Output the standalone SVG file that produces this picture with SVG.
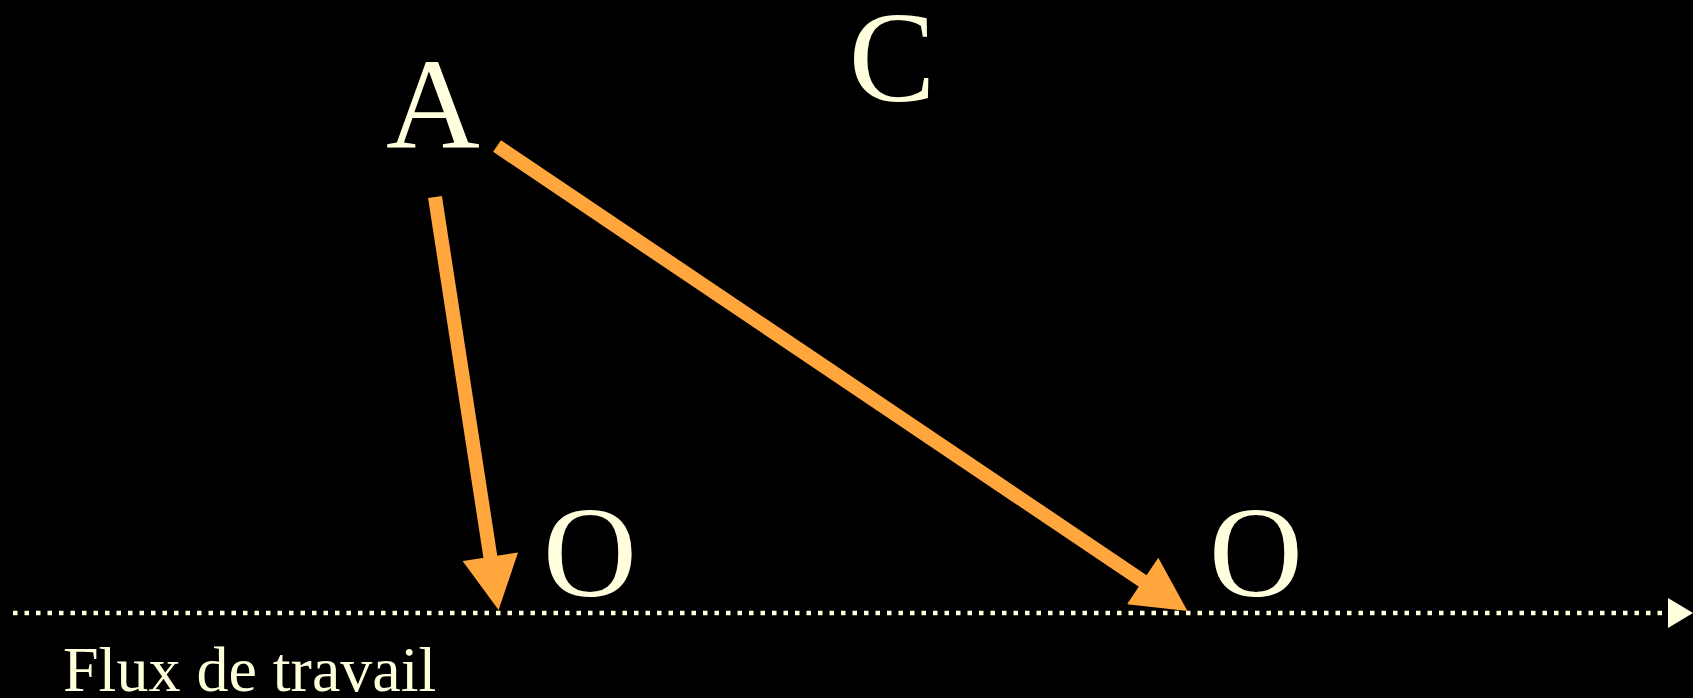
<svg xmlns="http://www.w3.org/2000/svg" width="1693" height="698" viewBox="0 0 1693 698">
<style>
.lbl{font-family:"Liberation Serif","Times New Roman",serif;fill:#FFFFDD;}
.big{font-size:130px;text-anchor:middle;}
.arr{stroke:#FFA63D;stroke-width:14;fill:none;}
</style>
<defs>
<marker id="head" markerUnits="userSpaceOnUse" markerWidth="56" markerHeight="56" viewBox="0 0 54 56" refX="1" refY="28" orient="auto">
<path d="M0,0 L54,28 L0,56 z" fill="#FFA63D"/>
</marker>
</defs>
<rect x="0" y="0" width="1693" height="698" fill="#000"/>
<g id="node-A"><text class="lbl big" x="433" y="148">A</text></g>
<g id="node-C"><text class="lbl big" x="892" y="101">C</text></g>
<g id="node-O1"><text class="lbl big" x="590" y="596">O</text></g>
<g id="node-O2"><text class="lbl big" x="1256" y="596">O</text></g>
<g id="label-flux"><text class="lbl" x="63" y="691" font-size="64">Flux de travail</text></g>
<g id="connectors">
<line class="arr" x1="435" y1="197" x2="490.5" y2="557.7" marker-end="url(#head)"/>
<line class="arr" x1="497" y1="146" x2="1143.5" y2="581.5" marker-end="url(#head)"/>
<line x1="13" y1="613" x2="1668" y2="613" stroke="#FFFFDD" stroke-width="4.5" stroke-dasharray="4.5 7"/>
<polygon points="1668,598 1693,613 1668,628" fill="#FFFFDD"/>
</g>
</svg>
